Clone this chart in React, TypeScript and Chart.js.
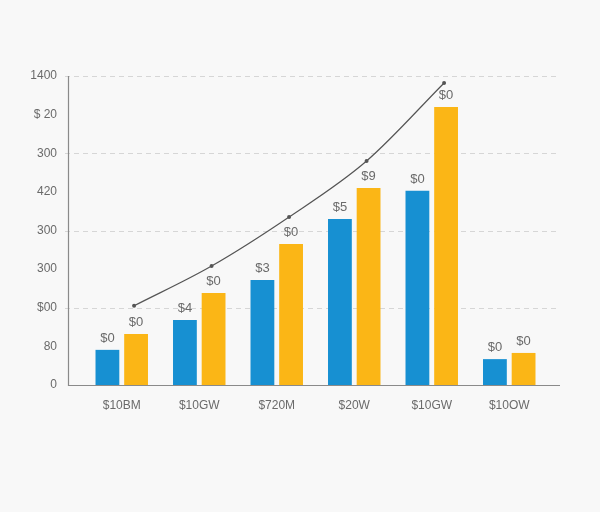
import { useEffect, useRef } from 'react';
import { Chart, registerables } from 'chart.js';

Chart.register(...registerables);

const categories = ['$10BM', '$10GW', '$720M', '$20W', '$10GW', '$10OW'];
const blueValues = [91, 168, 272, 430, 503, 67];
const yellowValues = [132, 238, 365, 510, 720, 83];
const trendValues = [205, 308, 435, 580, 782, null];
const blueLabels = ['$0', '$4', '$3', '$5', '$0', '$0'];
const yellowLabels = ['$0', '$0', '$0', '$9', '$0', '$0'];
const yTickLabels = ['0', '80', '$00', '300', '300', '420', '300', '$ 20', '1400'];

const BLUE = '#1790d2';
const YELLOW = '#fbb616';
const TEXT = '#6a6a6a';
const FONT = '"Liberation Sans", Arial, sans-serif';

// axis lines and dashed grid reach a bit past the category area, like the reference
const axesPlugin = {
  id: 'axesDecor',
  beforeDatasetsDraw(chart: Chart) {
    const { ctx, chartArea, scales } = chart;
    const y = scales.y;
    const left = chartArea.left - 15;
    const right = chartArea.right + 12;
    ctx.save();
    ctx.strokeStyle = '#d6d6d6';
    ctx.lineWidth = 1;
    ctx.setLineDash([5, 4]);
    y.ticks.forEach((t, i) => {
      if (i === 0 || i % 2 === 1) return;
      const py = Math.round(y.getPixelForValue(t.value)) + 0.5;
      ctx.beginPath();
      ctx.moveTo(left - 3, py);
      ctx.lineTo(right, py);
      ctx.stroke();
    });
    ctx.setLineDash([]);
    ctx.strokeStyle = '#8a8a8a';
    ctx.lineWidth = 1.2;
    const bottom = Math.round(y.getPixelForValue(0)) + 0.5;
    ctx.beginPath();
    ctx.moveTo(left + 0.5, y.getPixelForValue(y.max));
    ctx.lineTo(left + 0.5, bottom);
    ctx.lineTo(right, bottom);
    ctx.stroke();
    ctx.restore();
  },
  // move the trend line over the yellow bars
  beforeDatasetDraw(chart: Chart, args: { index: number }) {
    if (args.index !== 2) return;
    const yellow = chart.getDatasetMeta(1).data[0];
    const dx = yellow ? yellow.x - chart.scales.x.getPixelForValue(0) - 2 : 0;
    chart.ctx.save();
    chart.ctx.translate(dx, 0);
  },
  afterDatasetDraw(chart: Chart, args: { index: number }) {
    if (args.index !== 2) return;
    chart.ctx.restore();
  },
  afterDatasetsDraw(chart: Chart) {
    const { ctx } = chart;
    ctx.save();
    ctx.fillStyle = TEXT;
    ctx.font = `13px ${FONT}`;
    ctx.textAlign = 'center';
    ctx.textBaseline = 'bottom';
    [blueLabels, yellowLabels].forEach((labels, di) => {
      chart.getDatasetMeta(di).data.forEach((el, i) => {
        ctx.fillText(labels[i], el.x, el.y - 5);
      });
    });
    ctx.restore();
  },
};

function BarLineChart() {
  const canvasRef = useRef<HTMLCanvasElement>(null);
  const chartRef = useRef<Chart | null>(null);

  useEffect(() => {
    if (!canvasRef.current) return;
    chartRef.current?.destroy();
    chartRef.current = new Chart(canvasRef.current, {
      type: 'bar',
      data: {
        labels: categories,
        datasets: [
          {
            data: blueValues,
            backgroundColor: BLUE,
            borderWidth: 0,
            barPercentage: 0.83,
            categoryPercentage: 0.74,
          },
          {
            data: yellowValues,
            backgroundColor: YELLOW,
            borderWidth: 0,
            barPercentage: 0.83,
            categoryPercentage: 0.74,
          },
          {
            type: 'line',
            data: trendValues,
            borderColor: '#555',
            borderWidth: 1.2,
            pointRadius: 2,
            pointBackgroundColor: '#555',
            pointBorderWidth: 0,
            cubicInterpolationMode: 'monotone',
            spanGaps: false,
          },
        ],
      },
      options: {
        responsive: false,
        animation: false,
        layout: { padding: { top: 76, right: 52, left: 0, bottom: 0 } },
        plugins: {
          legend: { display: false },
          tooltip: { enabled: false },
        },
        scales: {
          x: {
            grid: { display: false, drawTicks: false },
            border: { display: false },
            afterFit: (scale) => { scale.height = 127; },
            ticks: {
              padding: 13,
              color: TEXT,
              font: { family: FONT, size: 12 },
            },
          },
          y: {
            min: 0,
            max: 800,
            grid: { display: false, drawTicks: false },
            border: { display: false },
            afterFit: (scale) => { scale.width = 83; },
            ticks: {
              stepSize: 100,
              padding: 26,
              color: TEXT,
              font: { family: FONT, size: 12 },
              callback: (_v, i) => yTickLabels[i],
            },
          },
        },
      },
      plugins: [axesPlugin],
    });
    return () => chartRef.current?.destroy();
  }, []);

  return (
    <canvas
      ref={canvasRef}
      width={600}
      height={512}
      role="img"
      aria-label="Grouped bar chart with trend line"
    />
  );
}

export default function App() {
  return (
    <div style={{ position: 'fixed', left: 0, top: 0, width: 600, height: 512, background: '#f8f8f8' }}>
      <BarLineChart />
    </div>
  );
}
